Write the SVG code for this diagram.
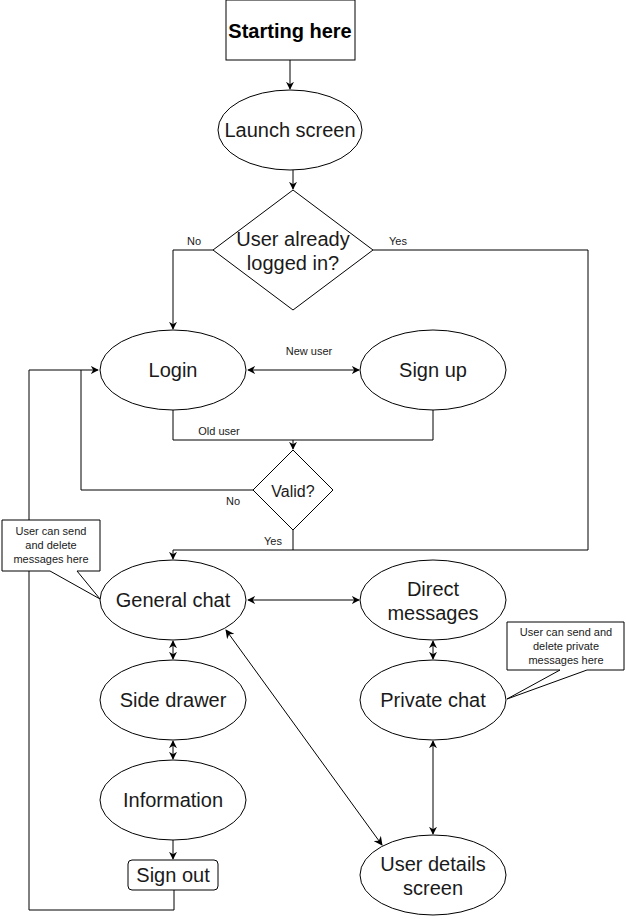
<svg xmlns="http://www.w3.org/2000/svg" width="626" height="919" viewBox="0 0 626 919">
<defs>
<marker id="ah" viewBox="0 0 10 10" refX="9" refY="5" markerWidth="8" markerHeight="8" markerUnits="userSpaceOnUse" orient="auto-start-reverse">
<path d="M0,0 L10,5 L0,10 L3,5 z" fill="#000"/>
</marker>
<marker id="ah2" viewBox="0 0 10 10" refX="9" refY="5" markerWidth="9" markerHeight="9" markerUnits="userSpaceOnUse" orient="auto-start-reverse">
<path d="M0,0 L10,5 L0,10 L3,5 z" fill="#000"/>
</marker>
</defs>
<style>
.n{fill:#fff;stroke:#000;stroke-width:1}
.t{font-family:"Liberation Sans",Arial,sans-serif;font-size:20px;fill:#1a1a1a;text-anchor:middle}
.s{font-family:"Liberation Sans",Arial,sans-serif;font-size:11px;fill:#1a1a1a;text-anchor:middle}
.c{fill:none;stroke:#000;stroke-width:1}
</style>
<rect width="626" height="919" fill="#fff"/>
<g id="connectors">
<path class="c" d="M290,60 V89" marker-end="url(#ah)"/>
<path class="c" d="M293,170 V189" marker-end="url(#ah)"/>
<path class="c" d="M213,250 H173 V329" marker-end="url(#ah)"/>
<path class="c" d="M373,250 H588 V550 H173 V559" marker-end="url(#ah)"/>
<path class="c" d="M248,370 H359" marker-start="url(#ah)" marker-end="url(#ah)"/>
<path class="c" d="M173,410 V440 H433 V410"/>
<path class="c" d="M293,440 V449" marker-end="url(#ah)"/>
<path class="c" d="M253,490 H81 V370 H98" marker-end="url(#ah)"/>
<path class="c" d="M293,530 V550"/>
<path class="c" d="M174,890 V910 H29 V370 H81"/>
<path class="c" d="M248,600 H359" marker-start="url(#ah)" marker-end="url(#ah)"/>
<path class="c" d="M173,641 V659" marker-start="url(#ah)" marker-end="url(#ah)"/>
<path class="c" d="M173,741 V759" marker-start="url(#ah)" marker-end="url(#ah)"/>
<path class="c" d="M173,840 V859" marker-end="url(#ah)"/>
<path class="c" d="M433,641 V659" marker-start="url(#ah)" marker-end="url(#ah)"/>
<path class="c" d="M433,741 V834" marker-start="url(#ah)" marker-end="url(#ah)"/>
<path class="c" d="M226,630 L382,845" marker-start="url(#ah2)" marker-end="url(#ah2)"/>
<text class="s" x="194" y="245">No</text>
<text class="s" x="398" y="245">Yes</text>
<text class="s" x="309" y="355">New user</text>
<text class="s" x="219" y="435">Old user</text>
<text class="s" x="233" y="505">No</text>
<text class="s" x="273" y="545">Yes</text>
</g>
<g id="start">
<rect class="n" x="226" y="0" width="129" height="60" stroke-width="1"/>
<text class="t" x="290" y="38" font-weight="bold" style="fill:#000">Starting here</text>
</g>
<g id="launch">
<ellipse class="n" cx="290" cy="130" rx="72" ry="40"/>
<text class="t" x="290" y="137">Launch screen</text>
</g>
<g id="logged">
<polygon class="n" points="293,190 373,250 293,310 213,250"/>
<text class="t" x="293" y="246">User already</text>
<text class="t" x="293" y="270">logged in?</text>
</g>
<g id="login">
<ellipse class="n" cx="173" cy="370" rx="73" ry="40"/>
<text class="t" x="173" y="377">Login</text>
</g>
<g id="signup">
<ellipse class="n" cx="433" cy="370" rx="73" ry="40"/>
<text class="t" x="433" y="377">Sign up</text>
</g>
<g id="valid">
<polygon class="n" points="293,450 333,490 293,530 253,490"/>
<text class="t" x="293" y="497" style="font-size:16px">Valid?</text>
</g>
<g id="general">
<ellipse class="n" cx="173" cy="600" rx="73" ry="40"/>
<text class="t" x="173" y="607">General chat</text>
</g>
<g id="callout1">
<path class="n" d="M2,520 H100 V571 H77 L100,599 L50,571 H2 Z"/>
<text class="s" x="51" y="535">User can send</text>
<text class="s" x="51" y="549">and delete</text>
<text class="s" x="51" y="563">messages here</text>
</g>
<g id="direct">
<ellipse class="n" cx="433" cy="600" rx="73" ry="40"/>
<text class="t" x="433" y="596">Direct</text>
<text class="t" x="433" y="620">messages</text>
</g>
<g id="sidedrawer">
<ellipse class="n" cx="173" cy="700" rx="73" ry="40"/>
<text class="t" x="173" y="707">Side drawer</text>
</g>
<g id="private">
<ellipse class="n" cx="433" cy="700" rx="73" ry="40"/>
<text class="t" x="433" y="707">Private chat</text>
</g>
<g id="callout2">
<path class="n" d="M507,622 H624 V670 H587 L507,699 L560,670 H507 Z"/>
<text class="s" x="566" y="636">User can send and</text>
<text class="s" x="566" y="650">delete private</text>
<text class="s" x="566" y="664">messages here</text>
</g>
<g id="information">
<ellipse class="n" cx="173" cy="800" rx="73" ry="40"/>
<text class="t" x="173" y="807">Information</text>
</g>
<g id="signout">
<rect class="n" x="128" y="860" width="90" height="30" rx="4"/>
<text class="t" x="173" y="882">Sign out</text>
</g>
<g id="userdetails">
<ellipse class="n" cx="433" cy="875" rx="73" ry="40"/>
<text class="t" x="433" y="871">User details</text>
<text class="t" x="433" y="895">screen</text>
</g>
</svg>
